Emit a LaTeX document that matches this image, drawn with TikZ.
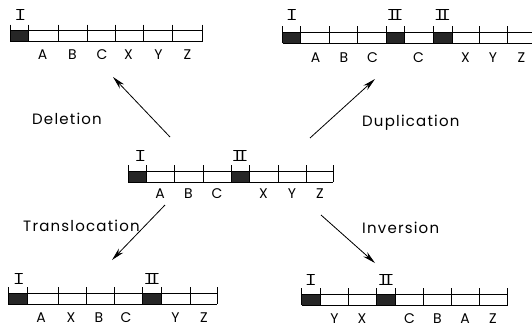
\documentclass[tikz,border=0pt]{standalone}
\usepackage{fontspec}
\setmainfont{Poppins}
\usetikzlibrary{arrows.meta}

\tikzset{
  bar/.style={line width=0.9pt, black},
  cent/.style={fill=black!85, draw=none},
  gene/.style={font=\fontsize{14}{14}\selectfont, inner sep=0pt},
  roman/.style={font=\ttfamily\fontsize{18}{18}\selectfont, inner sep=0pt},
  event/.style={font=\fontsize{15}{15}\selectfont\addfontfeature{LetterSpace=8}, inner sep=0pt, anchor=base west},
  move/.style={line width=0.8pt, -{Stealth[length=13pt,width=6pt]}},
}

% Roman numerals one and two with broad serifs
\newcommand\rI{\scalebox{1.35}[1]{I}}
\newcommand\rII{\scalebox{1.35}[1]{I\kern-0.3em I}}

% #1 top edge, #2 left end, #3 right end, #4 inner dividers, #5 dark blocks a/b
\newcommand\drawchrom[5]{%
  \foreach \a/\b in {#5} \fill[cent] (\a,#1) rectangle (\b,#1+11);
  \draw[bar] (#2,#1) -- (#3,#1) (#2,#1+11) -- (#3,#1+11);
  \foreach \x in {#2,#4,#3} \draw[bar] (\x,#1-6) -- (\x,#1+11);
}

\begin{document}
\begin{tikzpicture}[x=1pt, y=-1pt]
\clip (0,0) rectangle (532,327);
\fill[white] (0,0) rectangle (532,327);

% ---- original chromosome (centre)
\drawchrom{171}{128.3}{333}{146.3,174,203,231,249,278,306.5}{128.3/146.3,231/249}
\node[roman] (c-I) at (140.5,156) {\rI};
\node[roman] (c-II) at (240,156) {\rII};
\foreach \x/\t [count=\i] in {160/A,188.5/B,217/C,263.5/X,292/Y,320/Z}
  \node[gene] (c-\i) at (\x,194) {\t};

% ---- deletion (top left)
\drawchrom{30.5}{10.5}{202}{28.3,58,87,115,143,172}{10.5/28.3}
\node[roman] (d-I) at (20.5,14.5) {\rI};
\foreach \x/\t [count=\i] in {42.5/A,72.5/B,102/C,128.5/X,158.5/Y,187.5/Z}
  \node[gene] (d-\i) at (\x,55) {\t};

% ---- duplication (top right)
\drawchrom{32}{282.7}{536}{300.7,329,357,386,404,433,452,479,507}{282.7/300.7,386/404,433/452}
\node[roman] (u-I) at (292,15) {\rI};
\node[roman] (u-II) at (395,15) {\rII};
\node[roman] (u-IIb) at (442.5,15) {\rII};
\foreach \x/\t [count=\i] in {315.5/A,344/B,372.5/C,418.5/C,465.5/X,493/Y,521.5/Z}
  \node[gene] (u-\i) at (\x,57.5) {\t};

% ---- translocation (bottom left)
\drawchrom{293}{8.3}{217}{27.3,58,86,114,142.7,161,190}{8.3/27.3,142.7/161}
\node[roman] (t-I) at (19,279) {\rI};
\node[roman] (t-II) at (152,279) {\rII};
\foreach \x/\t [count=\i] in {41/A,71/X,99/B,126/C,175.5/Y,204/Z}
  \node[gene] (t-\i) at (\x,317.5) {\t};

% ---- inversion (bottom right)
\drawchrom{294}{301.7}{507.7}{320,348,376.7,395,423,451,479}{301.7/320,376.7/395}
\node[roman] (i-I) at (311,280) {\rI};
\node[roman] (i-II) at (386,280) {\rII};
\foreach \x/\t [count=\i] in {334.5/Y,362/X,409.5/C,437.5/B,465/A,493/Z}
  \node[gene] (i-\i) at (\x,318.5) {\t};

% ---- arrows
\coordinate (del-s) at (170,137);  \coordinate (del-e) at (113,77);
\coordinate (dup-s) at (310,138);  \coordinate (dup-e) at (375,79);
\coordinate (tra-s) at (165,205);  \coordinate (tra-e) at (112,260);
\coordinate (inv-s) at (321,215);  \coordinate (inv-e) at (375,263);
\draw[move] (del-s) -- (del-e);
\draw[move] (dup-s) -- (dup-e);
\draw[move] (tra-s) -- (tra-e);
\draw[move] (inv-s) -- (inv-e);

\node[event] (lab-del) at (32,124) {Deletion};
\node[event] (lab-dup) at (362,126) {Duplication};
\node[event] (lab-tra) at (23,231.5) {Translocation};
\node[event] (lab-inv) at (362,233) {Inversion};
\end{tikzpicture}
\end{document}
